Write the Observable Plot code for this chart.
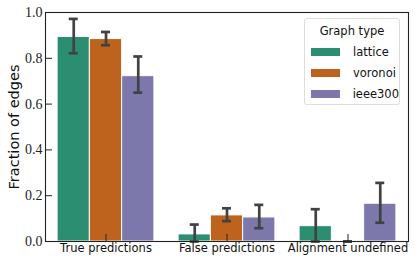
<!DOCTYPE html>
<html>
<head>
<meta charset="utf-8">
<script src="https://cdn.jsdelivr.net/npm/d3@7"></script>
<script src="https://cdn.jsdelivr.net/npm/@observablehq/plot@0.6"></script>
<style>
  html, body { margin: 0; padding: 0; background: #fff; }
  #wrap { position: relative; width: 415px; height: 263px; }
  #legend { position: absolute; left: 304px; top: 18px; width: 96px; height: 87px;
    box-sizing: border-box; border: 1px solid #dcdcdc; border-radius: 3px; background: rgba(255,255,255,0.85);
    font-family: "DejaVu Sans", sans-serif; font-size: 11.5px; color: #111; }
  #legend .title { text-align: center; margin-top: 5px; height: 18px; }
  #legend .row { display: flex; align-items: center; height: 20.7px; }
  #legend .sw { width: 29px; height: 8px; margin-left: 6px; margin-right: 13px; }
</style>
</head>
<body>
<div id="wrap"></div>
<script>
const categories = ["True predictions", "False predictions", "Alignment undefined"];
const types = ["lattice", "voronoi", "ieee300"];
const colors = ["#2c8e70", "#be631d", "#7c78ab"];
// values[type][category]
const lattice = [0.893, 0.031, 0.067];
const voronoi = [0.884, 0.114, 0.0];
const ieee300 = [0.722, 0.105, 0.165];
// error bar lower / upper bounds
const latticeLo = [0.822, 0.0, 0.0];
const latticeHi = [0.972, 0.074, 0.141];
const voronoiLo = [0.857, 0.089, 0.0];
const voronoiHi = [0.915, 0.145, 0.0];
const ieee300Lo = [0.650, 0.058, 0.082];
const ieee300Hi = [0.808, 0.160, 0.256];
const yTicks = [0, 0.2, 0.4, 0.6, 0.8, 1.0];

const series = {lattice: [lattice, latticeLo, latticeHi], voronoi: [voronoi, voronoiLo, voronoiHi], ieee300: [ieee300, ieee300Lo, ieee300Hi]};
const rows = [];
types.forEach((t, ti) => categories.forEach((c, ci) => rows.push({
  type: t, ti, category: c, value: series[t][0][ci], lo: series[t][1][ci], hi: series[t][2][ci]
})));

const W = 415, H = 263, mL = 45, mR = 7, mT = 12, mB = 22;
const band = (W - mL - mR) / categories.length;
const barW = band * 0.8 / types.length;
const capW = 9;
const errColor = "#424242";

const marks = [];
types.forEach((t, ti) => {
  const d = rows.filter(r => r.type === t);
  const dx = (ti - 1) * barW;
  marks.push(Plot.barY(d, {x: "category", y: "value", fill: "type", stroke: "white", strokeWidth: 1,
    insetLeft: (band - barW) / 2, insetRight: (band - barW) / 2, dx}));
});
types.forEach((t, ti) => {
  const d = rows.filter(r => r.type === t);
  const dx = (ti - 1) * barW;
  marks.push(Plot.ruleX(d, {x: "category", y1: "lo", y2: "hi", stroke: errColor, strokeWidth: 2.7, dx}));
  marks.push(Plot.tickY(d, {x: "category", y: "lo", stroke: errColor, strokeWidth: 2.7, dx,
    insetLeft: (band - capW) / 2, insetRight: (band - capW) / 2}));
  marks.push(Plot.tickY(d, {x: "category", y: "hi", stroke: errColor, strokeWidth: 2.7, dx,
    insetLeft: (band - capW) / 2, insetRight: (band - capW) / 2}));
});

const plot = Plot.plot({
  width: W, height: H,
  marginLeft: mL, marginRight: mR, marginTop: mT, marginBottom: mB,
  style: {background: "white", overflow: "visible"},
  x: {domain: categories, padding: 0, axis: null},
  y: {domain: [0, 1], axis: null},
  color: {domain: types, range: colors},
  marks: [
    ...marks,
    Plot.frame({stroke: "#222", strokeWidth: 1.1}),
    Plot.axisY(yTicks, {anchor: "left", tickSize: -7, tickFormat: () => "", stroke: "#222", strokeWidth: 1, label: null}),
    Plot.text(yTicks, {y: d => d, text: d => d.toFixed(1), frameAnchor: "left", textAnchor: "end", dx: -3,
      fontFamily: "Liberation Serif", fontSize: 14, fill: "#222"}),
    Plot.axisX(categories, {anchor: "bottom", tickSize: -7, tickFormat: () => "", stroke: "#222", label: null}),
    Plot.text(categories, {x: d => d, text: d => d, frameAnchor: "bottom", dy: 10,
      fontFamily: "DejaVu Sans", fontSize: 11.5, fill: "#111"}),
    Plot.text(["Fraction of edges"], {frameAnchor: "left", rotate: -90, dx: -31, textAnchor: "middle",
      fontSize: 14.5, fontFamily: "DejaVu Sans", fill: "#111"})
  ]
});

const wrap = document.getElementById("wrap");
wrap.appendChild(plot);
const color = plot.scale("color");
const leg = document.createElement("div");
leg.id = "legend";
leg.innerHTML = `<div class="title">Graph type</div>` + types.map(t =>
  `<div class="row"><div class="sw" style="background:${color.apply(t)}"></div><span>${t}</span></div>`).join("");
wrap.appendChild(leg);
</script>
</body>
</html>
